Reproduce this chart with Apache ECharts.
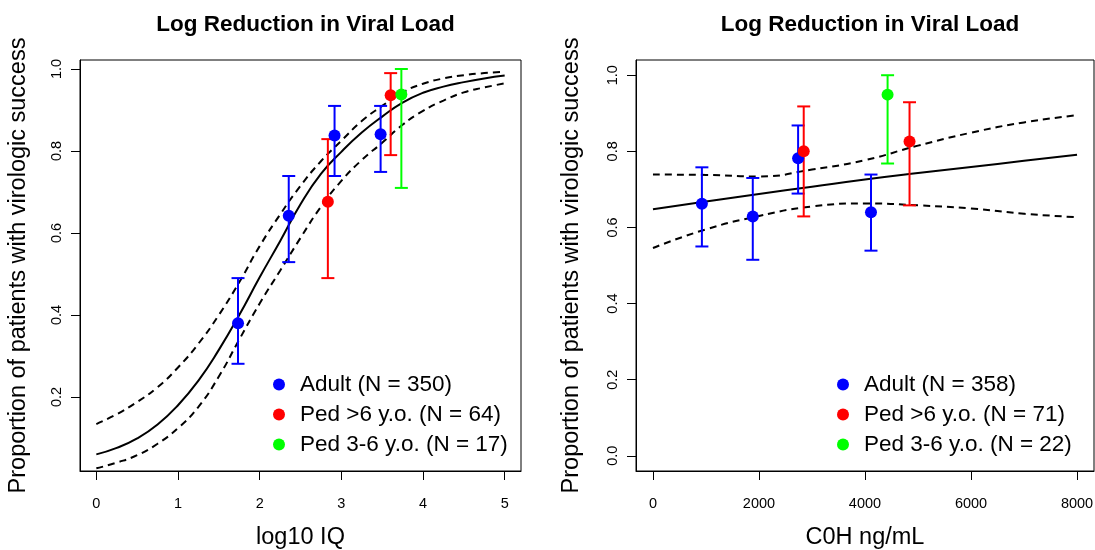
<!DOCTYPE html>
<html>
<head>
<meta charset="utf-8">
<script src="https://cdn.jsdelivr.net/npm/echarts@6/dist/echarts.min.js"></script>
<style>
html,body{margin:0;padding:0;background:#fff;}
#chart{width:1095px;height:550px;}
</style>
</head>
<body>
<div id="chart"></div>
<script>
// ---------- Data ----------
const panelTitle = 'Log Reduction in Viral Load';
const yTitle = 'Proportion of patients with virologic success';

// Left panel: log10 IQ
const iqTicksX = [0, 1, 2, 3, 4, 5];
const iqTicksY = [0.2, 0.4, 0.6, 0.8, 1.0];
const iqCurveX = [0, 0.25, 0.5, 0.75, 1.0, 1.25, 1.5, 1.75, 2.0, 2.25, 2.5, 2.75, 3.0, 3.25, 3.5, 3.75, 4.0, 4.25, 4.5, 4.75, 5.0];
const iqFit    = [0.060, 0.076, 0.099, 0.133, 0.180, 0.240, 0.315, 0.400, 0.492, 0.580, 0.670, 0.744, 0.798, 0.845, 0.884, 0.918, 0.942, 0.957, 0.968, 0.977, 0.984];
const iqUpper  = [0.134, 0.158, 0.188, 0.224, 0.272, 0.330, 0.400, 0.480, 0.568, 0.645, 0.715, 0.775, 0.825, 0.873, 0.910, 0.943, 0.964, 0.977, 0.985, 0.990, 0.993];
const iqLower  = [0.026, 0.040, 0.058, 0.086, 0.124, 0.176, 0.250, 0.340, 0.428, 0.508, 0.588, 0.664, 0.727, 0.778, 0.820, 0.864, 0.898, 0.923, 0.943, 0.955, 0.965];

const iqAdultName = 'Adult (N = 350)';
const iqAdultX  = [1.735, 2.356, 2.917, 3.481];
const iqAdultY  = [0.380, 0.642, 0.838, 0.841];
const iqAdultLo = [0.281, 0.529, 0.739, 0.749];
const iqAdultHi = [0.490, 0.739, 0.910, 0.910];

const iqPedOldName = 'Ped >6 y.o. (N = 64)';
const iqPedOldX  = [2.835, 3.604];
const iqPedOldY  = [0.676, 0.936];
const iqPedOldLo = [0.490, 0.790];
const iqPedOldHi = [0.829, 0.990];

const iqPedYoungName = 'Ped 3-6 y.o. (N = 17)';
const iqPedYoungX  = [3.735];
const iqPedYoungY  = [0.938];
const iqPedYoungLo = [0.710];
const iqPedYoungHi = [1.000];

// Right panel: C0H ng/mL
const cTicksX = [0, 2000, 4000, 6000, 8000];
const cTicksY = [0.0, 0.2, 0.4, 0.6, 0.8, 1.0];
const cCurveX = [0, 1000, 2000, 3000, 4000, 5000, 6000, 7000, 8000];
const cFit    = [0.648, 0.668, 0.688, 0.707, 0.726, 0.743, 0.759, 0.775, 0.791];
const cUpper  = [0.739, 0.738, 0.734, 0.752, 0.777, 0.815, 0.849, 0.876, 0.895];
const cLower  = [0.546, 0.595, 0.630, 0.655, 0.663, 0.658, 0.650, 0.636, 0.627];

const cAdultName = 'Adult (N = 358)';
const cAdultX  = [923, 1883, 2738, 4113];
const cAdultY  = [0.662, 0.629, 0.782, 0.640];
const cAdultLo = [0.550, 0.515, 0.689, 0.539];
const cAdultHi = [0.758, 0.730, 0.868, 0.739];

const cPedOldName = 'Ped >6 y.o. (N = 71)';
const cPedOldX  = [2844, 4840];
const cPedOldY  = [0.800, 0.826];
const cPedOldLo = [0.629, 0.658];
const cPedOldHi = [0.918, 0.929];

const cPedYoungName = 'Ped 3-6 y.o. (N = 22)';
const cPedYoungX  = [4426];
const cPedYoungY  = [0.949];
const cPedYoungLo = [0.768];
const cPedYoungHi = [1.000];

// ---------- Helpers ----------
const FONT = '"Liberation Sans", Arial, Helvetica, sans-serif';
const BLUE = '#0000ff', RED = '#ff0000', GREEN = '#00ff00';

function zip(a, b) { return a.map((v, i) => [v, b[i]]); }
function zip3(a, b, c) { return a.map((v, i) => [v, b[i], c[i]]); }

function errRender(params, api) {
  const x = api.value(0), lo = api.value(1), hi = api.value(2);
  const pLo = api.coord([x, lo]);
  const pHi = api.coord([x, hi]);
  const hw = 6.5;
  const style = { stroke: api.visual('color'), lineWidth: 2, fill: null };
  return {
    type: 'group',
    children: [
      { type: 'line', shape: { x1: pLo[0], y1: pLo[1], x2: pHi[0], y2: pHi[1] }, style: style },
      { type: 'line', shape: { x1: pLo[0] - hw, y1: pLo[1], x2: pLo[0] + hw, y2: pLo[1] }, style: style },
      { type: 'line', shape: { x1: pHi[0] - hw, y1: pHi[1], x2: pHi[0] + hw, y2: pHi[1] }, style: style }
    ]
  };
}

function curve(name, idx, xs, ys, dashed) {
  return {
    name: name, type: 'line', xAxisIndex: idx, yAxisIndex: idx,
    data: zip(xs, ys), smooth: true, showSymbol: false, symbol: 'none',
    lineStyle: { color: '#000', width: 2, type: dashed ? [7, 5] : 'solid' },
    z: 2, silent: true
  };
}
function errSeries(name, idx, xs, lo, hi, color) {
  return {
    name: name, type: 'custom', xAxisIndex: idx, yAxisIndex: idx,
    data: zip3(xs, lo, hi), renderItem: errRender,
    encode: { x: 0, y: [1, 2] },
    itemStyle: { color: color }, z: 3, silent: true
  };
}
function pts(name, idx, xs, ys, color) {
  return {
    name: name, type: 'scatter', xAxisIndex: idx, yAxisIndex: idx,
    data: zip(xs, ys), symbol: 'circle', symbolSize: 12,
    itemStyle: { color: color, opacity: 1 }, z: 4
  };
}

function xAxisDef(idx, min, max, ticks, name) {
  return {
    gridIndex: idx, type: 'value', min: min, max: max,
    axisLine: { show: true, onZero: false, lineStyle: { color: '#000', width: 1 } },
    axisTick: { show: true, length: 9, customValues: ticks, lineStyle: { color: '#000', width: 1 } },
    axisLabel: { customValues: ticks, margin: 25, fontSize: 14.5, color: '#000', fontFamily: FONT,
                 formatter: v => String(v) },
    splitLine: { show: false },
    name: name, nameLocation: 'middle', nameGap: 55,
    nameTextStyle: { fontSize: 23.5, color: '#000', fontFamily: FONT }
  };
}
function yAxisDef(idx, min, max, ticks, gap) {
  return {
    gridIndex: idx, type: 'value', min: min, max: max,
    axisLine: { show: true, onZero: false, lineStyle: { color: '#000', width: 1 } },
    axisTick: { show: true, length: 9, customValues: ticks, lineStyle: { color: '#000', width: 1 } },
    axisLabel: { customValues: ticks, margin: 16, rotate: 90, fontSize: 14.5, color: '#000', fontFamily: FONT,
                 formatter: v => v.toFixed(1) },
    splitLine: { show: false },
    name: yTitle, nameLocation: 'middle', nameGap: gap,
    nameTextStyle: { fontSize: 23.5, color: '#000', fontFamily: FONT }
  };
}
function legendDef(left, top, names) {
  return {
    orient: 'vertical', left: left, top: top, padding: 0,
    itemWidth: 12, itemHeight: 12, itemGap: 7,
    data: names.map(n => ({ name: n, icon: 'circle' })),
    textStyle: { fontSize: 22.5, color: '#000', fontFamily: FONT, lineHeight: 22, padding: [0, 0, 0, 10] },
    selectedMode: false
  };
}

const chart = echarts.init(document.getElementById('chart'), null, { renderer: 'canvas' });
chart.setOption({
  animation: false,
  backgroundColor: '#fff',
  textStyle: { fontFamily: FONT },
  title: [
    { text: panelTitle, left: 300.5, top: 8, textAlign: 'center',
      textStyle: { fontSize: 22.5, fontWeight: 'bold', color: '#000', fontFamily: FONT } },
    { text: panelTitle, left: 865, top: 8, textAlign: 'center',
      textStyle: { fontSize: 22.5, fontWeight: 'bold', color: '#000', fontFamily: FONT } }
  ],
  grid: [
    { left: 80, top: 60, width: 441, height: 411, show: true, borderColor: '#000', borderWidth: 1,
      backgroundColor: 'transparent', containLabel: false, outerBoundsMode: 'none' },
    { left: 636, top: 60, width: 458, height: 411, show: true, borderColor: '#000', borderWidth: 1,
      backgroundColor: 'transparent', containLabel: false, outerBoundsMode: 'none' }
  ],
  xAxis: [
    xAxisDef(0, -0.2, 5.2, iqTicksX, 'log10 IQ'),
    xAxisDef(1, -320, 8320, cTicksX, 'C0H ng/mL')
  ],
  yAxis: [
    yAxisDef(0, 0.0195, 1.022, iqTicksY, 49),
    yAxisDef(1, -0.04, 1.04, cTicksY, 52)
  ],
  legend: [
    legendDef(273, 373, [iqAdultName, iqPedOldName, iqPedYoungName]),
    legendDef(837, 373, [cAdultName, cPedOldName, cPedYoungName])
  ],
  series: [
    curve('iqFit', 0, iqCurveX, iqFit, false),
    curve('iqUpper', 0, iqCurveX, iqUpper, true),
    curve('iqLower', 0, iqCurveX, iqLower, true),
    errSeries('iqAdultErr', 0, iqAdultX, iqAdultLo, iqAdultHi, BLUE),
    errSeries('iqPedOldErr', 0, iqPedOldX, iqPedOldLo, iqPedOldHi, RED),
    errSeries('iqPedYoungErr', 0, iqPedYoungX, iqPedYoungLo, iqPedYoungHi, GREEN),
    pts(iqAdultName, 0, iqAdultX, iqAdultY, BLUE),
    pts(iqPedOldName, 0, iqPedOldX, iqPedOldY, RED),
    pts(iqPedYoungName, 0, iqPedYoungX, iqPedYoungY, GREEN),

    curve('cFit', 1, cCurveX, cFit, false),
    curve('cUpper', 1, cCurveX, cUpper, true),
    curve('cLower', 1, cCurveX, cLower, true),
    errSeries('cAdultErr', 1, cAdultX, cAdultLo, cAdultHi, BLUE),
    errSeries('cPedOldErr', 1, cPedOldX, cPedOldLo, cPedOldHi, RED),
    errSeries('cPedYoungErr', 1, cPedYoungX, cPedYoungLo, cPedYoungHi, GREEN),
    pts(cAdultName, 1, cAdultX, cAdultY, BLUE),
    pts(cPedOldName, 1, cPedOldX, cPedOldY, RED),
    pts(cPedYoungName, 1, cPedYoungX, cPedYoungY, GREEN)
  ]
});
</script>
</body>
</html>
